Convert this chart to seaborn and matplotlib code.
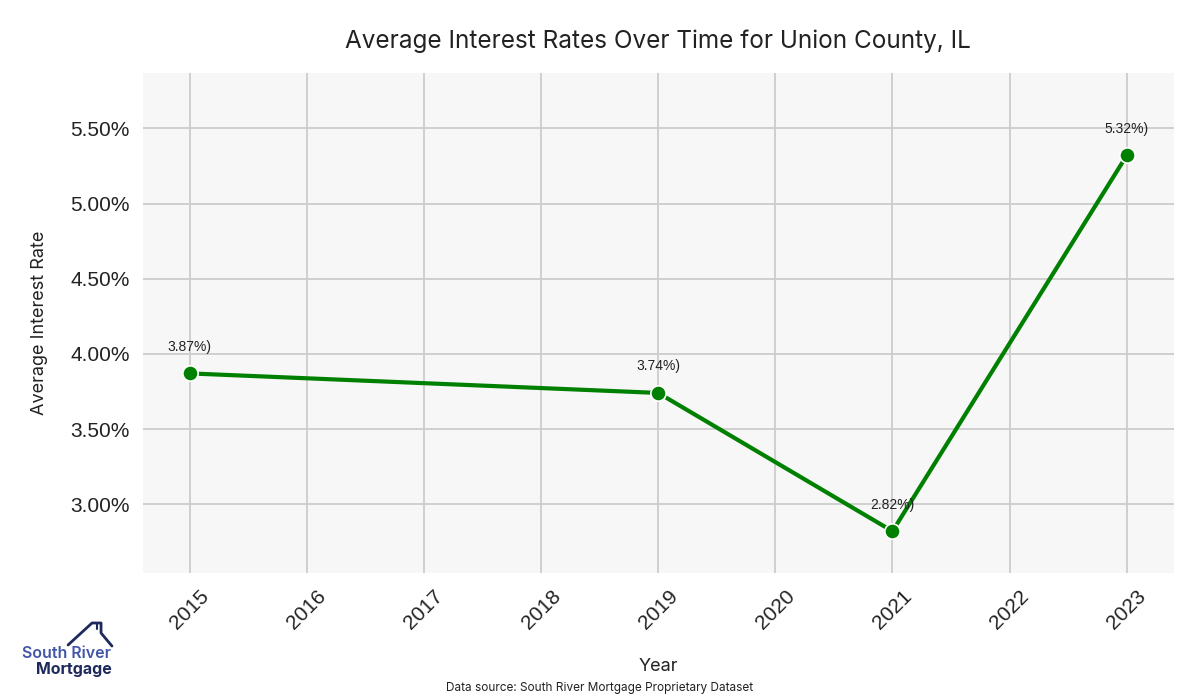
import matplotlib
matplotlib.use("Agg")
import matplotlib.pyplot as plt
import matplotlib.ticker as mticker
from matplotlib.lines import Line2D
import pandas as pd
import seaborn as sns


YEARS = [2015, 2019, 2021, 2023]
RATES = [3.87, 3.74, 2.82, 5.32]
TICK_YEARS = list(range(2015, 2024))

TITLE = "Average Interest Rates Over Time for Union County, IL"
SOURCE = "Data source: South River Mortgage Proprietary Dataset"


def main() -> None:
    df = pd.DataFrame({"Year": YEARS, "Rate": RATES})

    sns.set_theme(style="whitegrid")
    plt.rcParams["font.family"] = ["Liberation Sans", "DejaVu Sans"]

    fig, ax = plt.subplots(figsize=(12, 7), dpi=100)
    fig.subplots_adjust(left=0.119, right=0.978, top=0.896, bottom=0.181)
    ax.set_facecolor("#f7f7f7")

    sns.lineplot(
        data=df, x="Year", y="Rate", ax=ax,
        color="green", linewidth=3, marker="o", markersize=11,
        markeredgecolor="white", markeredgewidth=1.2,
    )

    for yr, rate in zip(YEARS, RATES):
        ax.annotate(f"{rate:.2f}%)", (yr, rate), xytext=(0, 14),
                    textcoords="offset points", ha="center", va="bottom",
                    fontsize=10, color="#222222")

    ax.set_ylim(2.54, 5.87)
    ax.set_xlim(2014.6, 2023.4)
    ax.set_xticks(TICK_YEARS)
    ax.yaxis.set_major_locator(mticker.MultipleLocator(0.5))
    ax.yaxis.set_major_formatter(mticker.FuncFormatter(lambda v, _: f"{v:.2f}%"))
    ax.tick_params(axis="x", labelsize=15, rotation=45, colors="#222222")
    ax.tick_params(axis="y", labelsize=15, colors="#222222")
    for lbl in ax.get_xticklabels():
        lbl.set_ha("center")

    ax.grid(True, color="#cccccc", linewidth=1.3)
    for s in ax.spines.values():
        s.set_visible(False)

    ax.set_title(TITLE, fontsize=17.5, family="Inter", color="#222222", pad=18)
    ax.set_xlabel("Year", fontsize=13, family="Inter", color="#222222", labelpad=18)
    ax.set_ylabel("Average Interest Rate", fontsize=13, family="Inter",
                  color="#222222", labelpad=16)

    fig.text(0.5, 0.017, SOURCE, ha="center", va="center", fontsize=8.5,
             family="Inter", color="#222222")

    # logo
    fig.text(0.0185, 0.067, "South River", fontsize=11.5, fontweight="semibold",
             color="#4256a8", family="Inter", ha="left", va="center")
    fig.text(0.030, 0.043, "Mortgage", fontsize=11.5, fontweight="bold",
             color="#1f2a5c", family="Inter", ha="left", va="center")
    fig.add_artist(Line2D([0.0567, 0.0767, 0.0842, 0.0842, 0.0933],
                          [0.0786, 0.110, 0.110, 0.0957, 0.0771],
                          transform=fig.transFigure, color="#1f2a5c", linewidth=2))
    fig.add_artist(Line2D([0.0805, 0.0805], [0.110, 0.101],
                          transform=fig.transFigure, color="#1f2a5c", linewidth=1.5))

    fig.savefig("out.png", dpi=100)
    plt.close(fig)


if __name__ == "__main__":
    main()
